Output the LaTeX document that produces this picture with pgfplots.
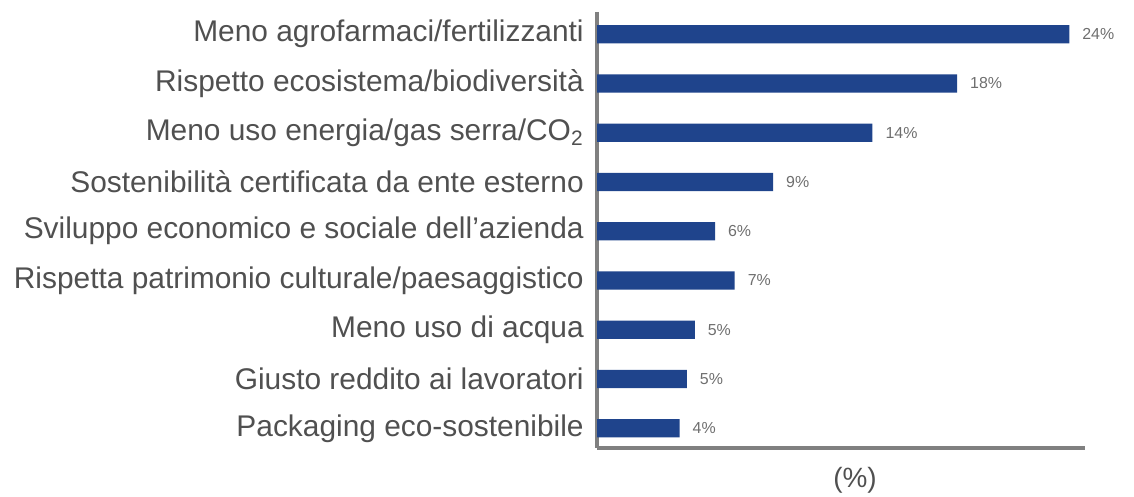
\documentclass[border=0pt]{standalone}
\usepackage{pgfplots}
\pgfplotsset{compat=1.18}
\usepackage{pgfplotstable}
\usepackage{fontspec}
\setmainfont{Liberation Sans}

\definecolor{barblue}{RGB}{31,68,140}
\definecolor{axisgray}{RGB}{128,128,128}
\definecolor{labgray}{RGB}{80,80,80}
\definecolor{valgray}{RGB}{110,110,110}

% idx = row from top, val = bar length, lbl = printed value
\pgfplotstableread{
idx val lbl
0 24.0 24
1 18.3 18
2 14.0 14
3 8.95 9
4 6.0 6
5 7.0 7
6 4.97 5
7 4.57 5
8 4.2 4
}\datatab

\begin{document}
\begin{tikzpicture}
\useasboundingbox (0,0) rectangle (567bp,248.5bp);
\begin{axis}[
    at={(298.5bp,24.5bp)}, anchor=south west,
    scale only axis,
    width=244bp, height=218bp,
    xbar, bar width=0.37,
    xmin=0, xmax=24.8,
    ymin=-0.45, ymax=8.4,
    y dir=reverse,
    axis x line=bottom, axis y line=left,
    axis line style={-, draw=axisgray, line width=1.6bp},
    xtick=\empty,
    ytick={0,...,8},
    yticklabels={
        Meno agrofarmaci/fertilizzanti,
        Rispetto ecosistema/biodiversità,
        Meno uso energia/gas serra/CO\textsubscript{2},
        Sostenibilità certificata da ente esterno,
        Sviluppo economico e sociale dell'azienda,
        Rispetta patrimonio culturale/paesaggistico,
        Meno uso di acqua,
        Giusto reddito ai lavoratori,
        Packaging eco-sostenibile},
    ytick style={draw=none},
    yticklabel style={font=\fontsize{15}{17}\selectfont, text=labgray, xshift=-1bp},
    xlabel={(\%)},
    xlabel style={font=\fontsize{14}{16}\selectfont, text=labgray, xshift=7bp, yshift=-4bp},
    point meta=explicit symbolic,
    nodes near coords={\pgfplotspointmeta\%},
    every node near coord/.append style={anchor=west, font=\fontsize{8}{9}\selectfont, text=valgray, xshift=3bp},
    clip=false,
]
\addplot[fill=barblue, draw=none] table[x=val, y=idx, meta=lbl] {\datatab};
\end{axis}
\end{tikzpicture}
\end{document}
